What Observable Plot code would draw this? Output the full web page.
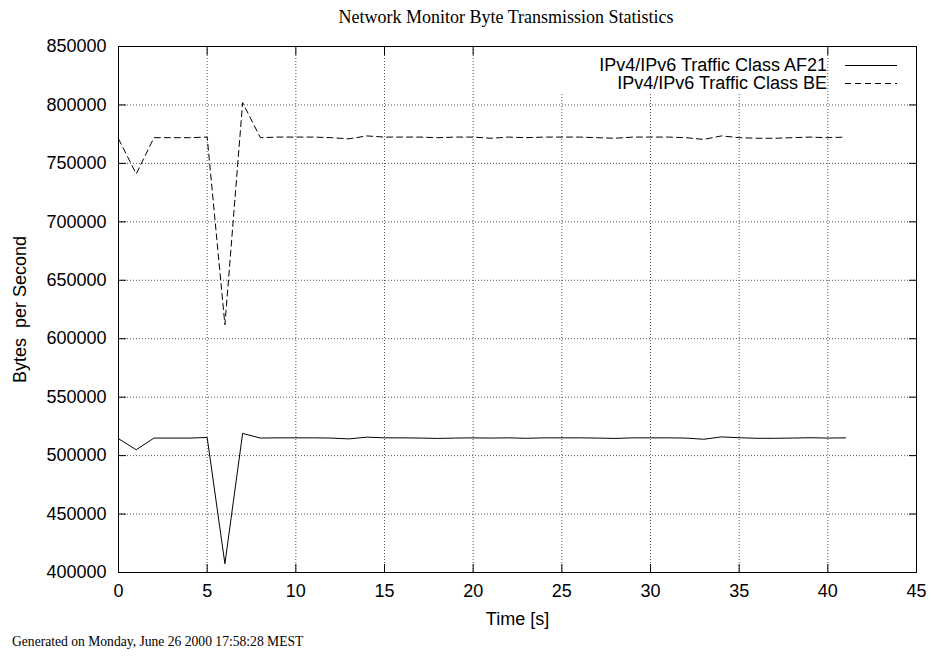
<!DOCTYPE html>
<html>
<head>
<meta charset="utf-8">
<script src="https://cdn.jsdelivr.net/npm/d3@7"></script>
<script src="https://cdn.jsdelivr.net/npm/@observablehq/plot@0.6"></script>
<style>
  body { margin: 0; background: #fff; }
  #wrap { position: relative; width: 932px; height: 656px; overflow: hidden; background: #fff; }
  #chart { position: absolute; left: 0; top: 0; }
  #title { position: absolute; left: 0; top: 6px; width: 1012px; text-align: center; z-index: 2;
           font-family: "Liberation Serif", "Times New Roman", serif; font-size: 18px; line-height: 22px; color: #000; white-space: nowrap; }
  #caption { position: absolute; left: 12px; top: 634px; z-index: 2;
           font-family: "Liberation Serif", "Times New Roman", serif; font-size: 13.6px; color: #000; white-space: nowrap; }
  #key { position: absolute; left: 540px; top: 47px; width: 286px; height: 45px; background: #fff; z-index: 2; }
  .krow { position: absolute; height: 18px; font-family: "Liberation Sans", Arial, sans-serif; font-size: 18px;
          line-height: 18px; color: #000; white-space: nowrap; }
  .ktext { position: absolute; right: 0; top: 0; }
</style>
</head>
<body>
<div id="wrap">
  <div id="chart"></div>
  <div id="title">Network Monitor Byte Transmission Statistics</div>
  <div id="key"></div>
  <div id="caption">Generated on Monday, June 26 2000 17:58:28 MEST</div>
</div>
<script>
// ---- data ----
const seconds = [0,1,2,3,4,5,6,7,8,9,10,11,12,13,14,15,16,17,18,19,20,21,22,23,24,25,26,27,28,29,30,31,32,33,34,35,36,37,38,39,40,41];
const af21 = [514500,505000,515000,515000,515000,515500,407500,519000,515000,515200,515200,515200,515000,514300,515800,515200,515200,515000,514700,515000,515200,515000,515200,514800,515200,515200,515200,515000,514700,515200,515200,515200,515000,514000,516000,515300,514800,514800,515000,515300,515000,515200];
const be = [771000,741000,772000,772000,772000,772500,612000,802000,772000,772500,772500,772500,772000,771000,773500,772500,772500,772500,772000,772500,772500,771500,772500,772000,772500,772500,772500,772000,771500,772500,772500,772500,772000,770500,773500,772000,771500,771500,772000,772500,772000,772500];
const seriesNames = ["IPv4/IPv6 Traffic Class AF21", "IPv4/IPv6 Traffic Class BE"];
const seriesDash = [null, "6,4"];
const xTicks = [0,5,10,15,20,25,30,35,40,45];
const yTicks = [400000,450000,500000,550000,600000,650000,700000,750000,800000,850000];
const xLabel = "Time [s]";
const yLabel = "Bytes  per Second";

const rows = [];
seconds.forEach((t, i) => {
  rows.push({t, v: af21[i], s: seriesNames[0]});
  rows.push({t, v: be[i], s: seriesNames[1]});
});

const gridStyle = {stroke: "#555", strokeOpacity: 1, strokeWidth: 1, strokeDasharray: "1,2"};

const plot = Plot.plot({
  width: 932,
  height: 656,
  marginLeft: 118,
  marginRight: 16,
  marginTop: 46,
  marginBottom: 84,
  style: {fontFamily: "'Liberation Sans', Arial, sans-serif", fontSize: "18px", background: "white", color: "black", whiteSpace: "pre"},
  x: {domain: [xTicks[0], xTicks[xTicks.length - 1]]},
  y: {domain: [yTicks[0], yTicks[yTicks.length - 1]]},
  marks: [
    Plot.gridX(xTicks.slice(1, -1), gridStyle),
    Plot.gridY(yTicks.slice(1, -1), gridStyle),
    Plot.axisX(xTicks, {tickSize: -8, tickPadding: 20, tickFormat: d => String(d), fontSize: 18,
      label: xLabel, labelAnchor: "center", labelArrow: "none", labelOffset: 52}),
    Plot.axisX(xTicks, {anchor: "top", tickSize: -8, tickFormat: () => "", label: null}),
    Plot.axisY(yTicks, {tickSize: -8, tickPadding: 20, tickFormat: d => String(d), fontSize: 18,
      label: yLabel, labelAnchor: "center", labelArrow: "none", labelOffset: 105}),
    Plot.axisY(yTicks, {anchor: "right", tickSize: -8, tickFormat: () => "", label: null}),
    ...seriesNames.map((name, k) =>
      Plot.line(rows.filter(d => d.s === name), {x: "t", y: "v", stroke: "black", strokeWidth: 1,
        strokeDasharray: seriesDash[k] || undefined})
    ),
    Plot.frame({stroke: "black", strokeWidth: 1})
  ]
});
document.getElementById("chart").appendChild(plot);

// ---- key (gnuplot style, top right inside the frame) ----
const key = document.getElementById("key");
const wrap = document.getElementById("wrap");
const keyTop = 47;
seriesNames.forEach((name, k) => {
  const cy = 65 + k * 18;  // row centre in page pixels
  const row = document.createElement("div");
  row.className = "krow";
  row.style.left = "0px";
  row.style.width = "287px";
  row.style.top = (cy - 9 - keyTop) + "px";
  const txt = document.createElement("span");
  txt.className = "ktext";
  txt.textContent = name;
  row.appendChild(txt);
  key.appendChild(row);
  const svgNS = "http://www.w3.org/2000/svg";
  const s = document.createElementNS(svgNS, "svg");
  s.setAttribute("width", 56); s.setAttribute("height", 6);
  s.style.position = "absolute";
  s.style.zIndex = 3;
  s.style.left = "845px";
  s.style.top = (cy - 3) + "px";
  const l = document.createElementNS(svgNS, "line");
  l.setAttribute("x1", 0); l.setAttribute("x2", 52); l.setAttribute("y1", 3.5); l.setAttribute("y2", 3.5);
  l.setAttribute("stroke", "black"); l.setAttribute("stroke-width", 1);
  if (seriesDash[k]) l.setAttribute("stroke-dasharray", seriesDash[k]);
  s.appendChild(l);
  wrap.appendChild(s);
});
</script>
</body>
</html>
